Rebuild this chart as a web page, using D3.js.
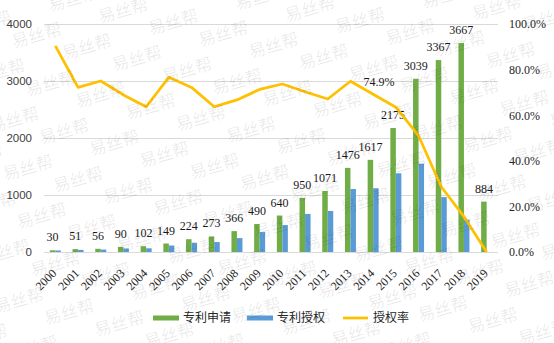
<!DOCTYPE html>
<html>
<head>
<meta charset="utf-8">
<script src="https://cdn.jsdelivr.net/npm/d3@7/dist/d3.min.js"></script>
<style>
  body { margin: 0; background: #fff; }
  svg { display: block; }
</style>
</head>
<body>
<svg id="chart" width="554" height="343"></svg>
<script>
// Patent applications, grants and grant rate by year
const years = ["2000","2001","2002","2003","2004","2005","2006","2007","2008","2009",
               "2010","2011","2012","2013","2014","2015","2016","2017","2018","2019"];
const applied = [30, 51, 56, 90, 102, 149, 224, 273, 366, 490,
                 640, 950, 1071, 1476, 1617, 2175, 3039, 3367, 3667, 884];
const granted = [27, 37, 42, 62, 65, 114, 162, 174, 244, 349,
                 472, 668, 719, 1105, 1119, 1381, 1550, 963, 568, 0];
const grantRate = [90.4, 72.2, 75.0, 68.9, 63.7, 76.6, 72.2, 63.7, 66.7, 71.3,
                   73.7, 70.3, 67.1, 74.9, 69.2, 63.5, 51.0, 28.6, 15.5, 0.0];
const countTicks = [0, 1000, 2000, 3000, 4000];
const rateTicks = [0, 0.2, 0.4, 0.6, 0.8, 1.0];
const rateLabelYear = "2013";
const seriesNames = ["专利申请", "专利授权", "授权率"];
const watermarkText = "易丝帮";

(function () {
  const colors = { applied: "#70AD47", granted: "#5B9BD5", rate: "#FFC000" };
  const W = 554, H = 343;
  const plotL = 44, plotR = 498, plotT = 24, plotB = 252;

  const svg = d3.select("#chart");

  const x = d3.scaleBand().domain(years).range([plotL, plotR]).padding(0);
  const yL = d3.scaleLinear().domain([0, 4000]).range([plotB, plotT]);
  const yR = d3.scaleLinear().domain([0, 1]).range([plotB, plotT]);
  const cx = d => x(d) + x.bandwidth() / 2;
  const barW = 5.5;

  // left axis with horizontal gridlines
  const gL = svg.append("g")
    .attr("transform", `translate(${plotL},0)`)
    .call(d3.axisLeft(yL).tickValues(countTicks).tickSize(-(plotR - plotL))
          .tickPadding(12).tickFormat(d3.format("d")));
  gL.select(".domain").remove();
  gL.selectAll(".tick line").attr("stroke", "#d9d9d9").attr("stroke-width", 1);
  gL.selectAll(".tick text")
    .attr("font-family", "'Liberation Sans', Arial, sans-serif")
    .attr("font-size", 11.5).attr("fill", "#404040");

  // right axis (grant rate)
  const gR = svg.append("g")
    .attr("transform", `translate(${plotR},0)`)
    .call(d3.axisRight(yR).tickValues(rateTicks).tickSize(0)
          .tickPadding(11).tickFormat(d3.format(".1%")));
  gR.select(".domain").remove();
  gR.selectAll(".tick text")
    .attr("font-family", "'Liberation Serif', 'Times New Roman', serif")
    .attr("font-size", 12).attr("fill", "#262626");

  // category axis with rotated year labels
  const gX = svg.append("g")
    .attr("transform", `translate(0,${plotB})`)
    .call(d3.axisBottom(x).tickSize(0).tickPadding(0));
  gX.select(".domain").remove();
  gX.selectAll(".tick text")
    .attr("x", 2).attr("y", 22).attr("dy", 0)
    .attr("text-anchor", "end")
    .attr("transform", "rotate(-45,2,22)")
    .attr("font-family", "'Liberation Serif', 'Times New Roman', serif")
    .attr("font-size", 12).attr("fill", "#262626");

  // bars
  const bars = svg.append("g");
  bars.selectAll("rect.applied").data(years).join("rect")
    .attr("class", "applied")
    .attr("x", d => cx(d) - barW)
    .attr("width", barW)
    .attr("y", (d, i) => yL(applied[i]))
    .attr("height", (d, i) => plotB - yL(applied[i]))
    .attr("fill", colors.applied);
  bars.selectAll("rect.granted").data(years).join("rect")
    .attr("class", "granted")
    .attr("x", d => cx(d))
    .attr("width", barW)
    .attr("y", (d, i) => yL(granted[i]))
    .attr("height", (d, i) => plotB - yL(granted[i]))
    .attr("fill", colors.granted);

  // value labels above the application bars
  svg.append("g").selectAll("text").data(years).join("text")
    .attr("x", d => cx(d) - barW / 2)
    .attr("y", (d, i) => yL(applied[i]) - 9)
    .attr("text-anchor", "middle")
    .attr("font-family", "'Liberation Serif', 'Times New Roman', serif")
    .attr("font-size", 12).attr("fill", "#1a1a1a")
    .text((d, i) => applied[i]);

  // grant-rate line
  const line = d3.line()
    .x((d, i) => cx(years[i]))
    .y(d => yR(d / 100));
  svg.append("path")
    .datum(grantRate)
    .attr("d", line)
    .attr("fill", "none")
    .attr("stroke", colors.rate)
    .attr("stroke-width", 2.75)
    .attr("stroke-linejoin", "round");

  const ri = years.indexOf(rateLabelYear);
  svg.append("text")
    .attr("x", cx(rateLabelYear) + 13)
    .attr("y", yR(grantRate[ri] / 100) + 5)
    .attr("font-family", "'Liberation Serif', 'Times New Roman', serif")
    .attr("font-size", 12).attr("fill", "#1a1a1a")
    .text(d3.format(".1f")(grantRate[ri]) + "%");

  // legend
  const legendItems = [
    { name: seriesNames[0], color: colors.applied, type: "bar", x: 153 },
    { name: seriesNames[1], color: colors.granted, type: "bar", x: 247 },
    { name: seriesNames[2], color: colors.rate, type: "line", x: 343 }
  ];
  const lg = svg.append("g").attr("transform", "translate(0,318)");
  legendItems.forEach(it => {
    if (it.type === "bar") {
      lg.append("rect").attr("x", it.x).attr("y", -2.5).attr("width", 26).attr("height", 5)
        .attr("fill", it.color);
    } else {
      lg.append("line").attr("x1", it.x).attr("x2", it.x + 25).attr("y1", 0).attr("y2", 0)
        .attr("stroke", it.color).attr("stroke-width", 2.75);
    }
    lg.append("text").attr("x", it.x + 30).attr("y", 0).attr("dy", "0.36em")
      .attr("font-family", "'Noto Sans CJK SC', sans-serif")
      .attr("font-size", 12).attr("fill", "#262626")
      .text(it.name);
  });

  // faint tiled watermark across the canvas, laid out in a rotated grid
  const ang = -16 * Math.PI / 180;
  const cells = [];
  for (let r = -10; r < 20; r++) {
    for (let c = -3; c < 9; c++) {
      const u = c * 90 + (r % 2 ? 45 : 0);
      const v = r * 25;
      // keep only copies whose anchor lands on or near the canvas
      const sx = u * Math.cos(ang) - v * Math.sin(ang);
      const sy = u * Math.sin(ang) + v * Math.cos(ang);
      if (sx > -60 && sx < W + 10 && sy > -10 && sy < H + 25) cells.push([u, v]);
    }
  }
  svg.append("g")
    .attr("pointer-events", "none")
    .attr("transform", "rotate(-16)")
    .selectAll("text").data(cells).join("text")
    .attr("x", d => d[0]).attr("y", d => d[1])
    .attr("font-family", "'Noto Sans CJK SC', sans-serif")
    .attr("font-size", 17)
    .attr("fill", "#000")
    .attr("fill-opacity", 0.09)
    .text(watermarkText);
})();
</script>
</body>
</html>
